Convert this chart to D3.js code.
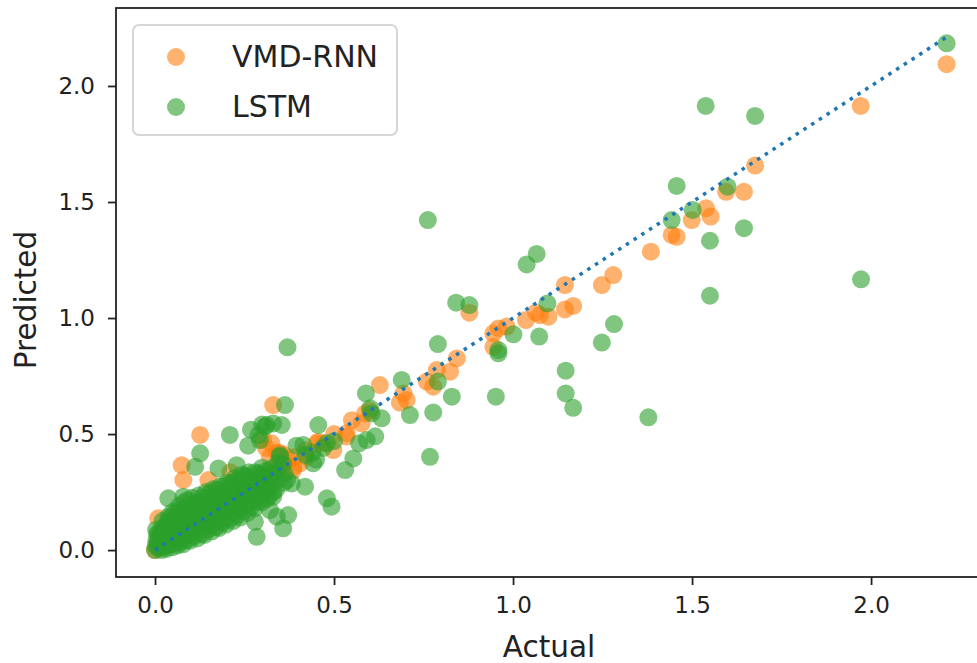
<!DOCTYPE html>
<html>
<head>
<meta charset="utf-8">
<script src="https://cdn.jsdelivr.net/npm/d3@7"></script>
<style>
  body { margin: 0; background: #fff; }
  text { font-family: "DejaVu Sans", sans-serif; fill: #222; }
</style>
</head>
<body>
<script>
// Data (actual, predicted)
const vmdRnnPoints = [
  [2.211, 2.094], [1.971, 1.914], [1.676, 1.657], [1.595, 1.544], [1.645, 1.544],
  [1.539, 1.473], [1.552, 1.437], [1.499, 1.422], [1.443, 1.358], [1.457, 1.35],
  [1.385, 1.286], [1.28, 1.185], [1.248, 1.142], [1.145, 1.142], [1.168, 1.052],
  [1.145, 1.037], [1.099, 1.006], [1.064, 1.023], [1.036, 0.991], [1.075, 1.012],
  [0.878, 1.023], [0.959, 0.955], [0.945, 0.934], [0.982, 0.963], [0.945, 0.876],
  [0.843, 0.826], [0.824, 0.769], [0.787, 0.776], [0.759, 0.726], [0.777, 0.704],
  [0.628, 0.711], [0.694, 0.675], [0.684, 0.635], [0.703, 0.647], [0.587, 0.589],
  [0.577, 0.546], [0.535, 0.503], [0.535, 0.489], [0.498, 0.431], [0.452, 0.46],
  [0.456, 0.467], [0.424, 0.402], [0.405, 0.374], [0.386, 0.345], [0.33, 0.625],
  [0.302, 0.474], [0.126, 0.496], [0.0745, 0.366], [0.079, 0.302], [0.149, 0.302],
  [0.009, 0.137], [0.21, 0.335], [0.349, 0.418], [0.321, 0.401], [0.386, 0.358],
  [0.0, 0.0], [0.005, 0.012], [0.01, 0.02], [0.012, 0.035], [0.018, 0.01],
  [0.02, 0.045], [0.025, 0.03], [0.03, 0.06], [0.035, 0.02], [0.04, 0.05],
  [0.045, 0.075], [0.05, 0.04], [0.055, 0.06], [0.06, 0.09], [0.065, 0.05],
  [0.07, 0.075], [0.078, 0.1], [0.085, 0.07], [0.09, 0.11], [0.1, 0.09],
  [0.105, 0.125], [0.115, 0.1], [0.12, 0.14], [0.13, 0.12], [0.14, 0.15],
  [0.15, 0.13], [0.16, 0.17], [0.17, 0.15], [0.18, 0.19], [0.19, 0.175],
  [0.2, 0.21], [0.21, 0.2], [0.22, 0.23], [0.235, 0.22], [0.25, 0.26],
  [0.26, 0.245], [0.275, 0.29], [0.29, 0.28], [0.3, 0.31], [0.31, 0.3],
  [0.32, 0.335], [0.33, 0.32], [0.345, 0.36], [0.355, 0.35], [0.37, 0.39],
  [0.31, 0.44], [0.325, 0.46], [0.34, 0.42], [0.36, 0.41], [0.39, 0.4],
  [0.42, 0.43], [0.47, 0.46], [0.5, 0.5], [0.55, 0.56], [0.6, 0.6],
  [0.02, 0.08], [0.03, 0.11], [0.01, 0.06]
];

const lstmPoints = [
  [2.211, 2.184], [1.972, 1.167], [1.538, 1.914], [1.676, 1.871], [1.457, 1.569],
  [1.599, 1.566], [1.502, 1.466], [1.443, 1.422], [1.645, 1.387], [1.55, 1.333],
  [1.55, 1.096], [0.762, 1.422], [1.066, 1.276], [1.038, 1.231], [0.841, 1.066],
  [0.878, 1.056], [1.096, 1.063], [1.282, 0.974], [1.248, 0.894], [1.001, 0.93],
  [1.073, 0.92], [0.79, 0.888], [0.959, 0.862], [0.959, 0.848], [1.147, 0.773],
  [0.689, 0.733], [0.79, 0.726], [1.147, 0.675], [1.168, 0.613], [0.829, 0.661],
  [0.952, 0.661], [1.378, 0.572], [0.589, 0.675], [0.712, 0.582], [0.777, 0.593],
  [0.768, 0.402], [0.605, 0.589], [0.633, 0.568], [0.601, 0.611], [0.456, 0.539],
  [0.554, 0.395], [0.531, 0.345], [0.591, 0.474], [0.37, 0.874], [0.363, 0.625],
  [0.48, 0.46], [0.414, 0.453], [0.33, 0.546], [0.354, 0.539], [0.312, 0.539],
  [0.293, 0.474], [0.349, 0.409], [0.419, 0.273], [0.48, 0.223], [0.493, 0.187],
  [0.372, 0.151], [0.321, 0.172], [0.33, 0.23], [0.382, 0.287], [0.442, 0.374],
  [0.209, 0.496], [0.126, 0.417], [0.112, 0.359], [0.177, 0.352], [0.228, 0.366],
  [0.289, 0.496], [0.307, 0.532], [0.037, 0.223], [0.079, 0.23], [0.349, 0.402],
  [0.33, 0.331], [0.369, 0.302], [0.284, 0.057], [0.279, 0.122], [0.34, 0.144],
  [0.358, 0.094], [0.268, 0.519], [0.299, 0.541], [0.26, 0.45], [0.395, 0.45],
  [0.42, 0.41], [0.615, 0.49], [0.57, 0.46], [0.44, 0.42], [0.47, 0.44],
  [0.5, 0.47], [0.45, 0.39],
  [0.0, 0.0], [0.002, 0.02], [0.004, 0.045], [0.006, 0.07], [0.003, 0.088],
  [0.01, 0.01], [0.008, 0.032], [0.012, 0.058], [0.012, 0.075],
  [0.018, 0.0], [0.02, 0.025], [0.022, 0.05], [0.019, 0.078], [0.024, 0.1], [0.021, 0.125],
  [0.028, 0.015], [0.029, 0.045], [0.027, 0.075], [0.03, 0.1],
  [0.032, 0.005], [0.035, 0.03], [0.037, 0.06], [0.034, 0.09], [0.036, 0.118], [0.038, 0.145],
  [0.043, 0.025], [0.044, 0.055], [0.042, 0.085], [0.045, 0.115], [0.043, 0.14],
  [0.048, 0.012], [0.05, 0.04], [0.052, 0.07], [0.049, 0.1], [0.053, 0.13], [0.05, 0.165],
  [0.058, 0.03], [0.057, 0.06], [0.059, 0.095], [0.056, 0.125], [0.058, 0.16],
  [0.063, 0.02], [0.066, 0.05], [0.064, 0.085], [0.068, 0.115], [0.065, 0.15], [0.067, 0.19],
  [0.072, 0.035], [0.073, 0.07], [0.071, 0.105], [0.074, 0.14], [0.072, 0.175],
  [0.078, 0.025], [0.082, 0.06], [0.08, 0.095], [0.083, 0.13], [0.079, 0.165], [0.081, 0.205],
  [0.09, 0.045], [0.089, 0.08], [0.091, 0.115], [0.088, 0.15], [0.092, 0.185], [0.09, 0.215],
  [0.097, 0.04], [0.1, 0.075], [0.102, 0.11], [0.099, 0.15], [0.101, 0.19], [0.104, 0.225],
  [0.11, 0.06], [0.109, 0.095], [0.111, 0.13], [0.108, 0.17], [0.112, 0.205],
  [0.118, 0.05], [0.121, 0.085], [0.12, 0.125], [0.123, 0.165], [0.119, 0.2], [0.122, 0.235],
  [0.13, 0.07], [0.129, 0.11], [0.131, 0.15], [0.128, 0.19], [0.132, 0.225],
  [0.138, 0.065], [0.141, 0.1], [0.14, 0.14], [0.143, 0.18], [0.139, 0.215], [0.142, 0.25],
  [0.15, 0.09], [0.149, 0.13], [0.151, 0.17], [0.148, 0.21], [0.152, 0.245],
  [0.158, 0.08], [0.161, 0.115], [0.16, 0.155], [0.163, 0.195], [0.159, 0.23], [0.162, 0.262],
  [0.17, 0.1], [0.169, 0.145], [0.171, 0.185], [0.168, 0.225], [0.172, 0.26],
  [0.178, 0.095], [0.181, 0.13], [0.18, 0.17], [0.183, 0.21], [0.179, 0.245], [0.182, 0.275],
  [0.19, 0.12], [0.189, 0.16], [0.191, 0.2], [0.188, 0.24], [0.192, 0.275],
  [0.198, 0.11], [0.201, 0.15], [0.2, 0.19], [0.203, 0.225], [0.199, 0.26], [0.202, 0.29],
  [0.21, 0.135], [0.209, 0.175], [0.211, 0.215], [0.208, 0.255], [0.212, 0.29],
  [0.218, 0.125], [0.221, 0.165], [0.22, 0.205], [0.223, 0.24], [0.219, 0.275], [0.222, 0.31],
  [0.23, 0.15], [0.229, 0.19], [0.231, 0.23], [0.228, 0.27], [0.232, 0.305],
  [0.238, 0.14], [0.241, 0.18], [0.24, 0.22], [0.243, 0.26], [0.239, 0.295], [0.242, 0.325],
  [0.25, 0.17], [0.249, 0.21], [0.251, 0.25], [0.248, 0.29], [0.252, 0.32],
  [0.258, 0.16], [0.261, 0.2], [0.26, 0.24], [0.263, 0.28], [0.259, 0.315], [0.262, 0.335],
  [0.27, 0.19], [0.269, 0.23], [0.271, 0.27], [0.268, 0.31],
  [0.278, 0.18], [0.281, 0.22], [0.28, 0.26], [0.283, 0.3], [0.279, 0.335],
  [0.29, 0.21], [0.289, 0.25], [0.291, 0.29], [0.288, 0.33],
  [0.298, 0.205], [0.301, 0.245], [0.3, 0.285], [0.303, 0.325], [0.299, 0.355],
  [0.31, 0.22], [0.309, 0.26], [0.311, 0.3], [0.308, 0.34],
  [0.318, 0.23], [0.321, 0.27], [0.32, 0.31], [0.323, 0.35],
  [0.33, 0.25], [0.329, 0.29], [0.331, 0.33],
  [0.338, 0.26], [0.341, 0.3], [0.34, 0.34], [0.343, 0.375],
  [0.36, 0.29], [0.362, 0.33], [0.358, 0.37]
];

// y = x reference line, from min to max actual value
const refLine = [0.0, 2.21];

const xTicks = [0.0, 0.5, 1.0, 1.5, 2.0];
const yTicks = [0.0, 0.5, 1.0, 1.5, 2.0];

const seriesNames = ["VMD-RNN", "LSTM"];
const seriesColors = ["#ff7f0e", "#2ca02c"];

//   Parameters
const w = 977;
const h = 663;
const plotLeft = 116, plotTop = 8, plotRight = 986, plotBottom = 577;
const r = 9;

const svg = d3.select("body").append("svg").attr("width", w).attr("height", h);

const xScale = d3.scaleLinear().domain([-0.109, 2.321]).range([plotLeft, plotRight]);
const yScale = d3.scaleLinear().domain([-0.116, 2.336]).range([plotBottom, plotTop]);

svg.append("defs").append("clipPath").attr("id", "plot-clip")
  .append("rect")
  .attr("x", plotLeft).attr("y", plotTop)
  .attr("width", plotRight - plotLeft).attr("height", plotBottom - plotTop);

const plot = svg.append("g").attr("clip-path", "url(#plot-clip)");

//   Scatter points
[vmdRnnPoints, lstmPoints].forEach((pts, i) => {
  plot.append("g")
    .selectAll("circle")
    .data(pts)
    .enter()
    .append("circle")
    .attr("cx", (d) => xScale(d[0]))
    .attr("cy", (d) => yScale(d[1]))
    .attr("r", r)
    .attr("fill", seriesColors[i])
    .attr("fill-opacity", 0.6);
});

//   Dotted line
plot.append("path")
  .datum(refLine)
  .attr("d", d3.line().x((d) => xScale(d)).y((d) => yScale(d)))
  .attr("fill", "none")
  .attr("stroke", "#1f77b4")
  .attr("stroke-width", 3.5)
  .attr("stroke-dasharray", "3.5 5.7");

//   AXIS
const fmt = d3.format(".1f");

const xAxis = svg.append("g")
  .attr("transform", "translate(0," + plotBottom + ")")
  .call(d3.axisBottom(xScale).tickValues(xTicks).tickFormat(fmt)
    .tickSize(8).tickSizeOuter(0).tickPadding(12));

const yAxis = svg.append("g")
  .attr("transform", "translate(" + plotLeft + ",0)")
  .call(d3.axisLeft(yScale).tickValues(yTicks).tickFormat(fmt)
    .tickSize(8).tickSizeOuter(0).tickPadding(13));

[xAxis, yAxis].forEach((g) => {
  g.select(".domain").remove();
  g.selectAll(".tick line").attr("stroke", "#222").attr("stroke-width", 1.8);
  g.selectAll(".tick text")
    .style("font-family", "'DejaVu Sans', sans-serif")
    .style("font-size", "23px")
    .attr("fill", "#222");
});

//   Frame
svg.append("rect")
  .attr("x", plotLeft).attr("y", plotTop)
  .attr("width", plotRight - plotLeft).attr("height", plotBottom - plotTop)
  .attr("fill", "none")
  .attr("stroke", "#222")
  .attr("stroke-width", 1.8);

//   Axis labels
svg.append("text")
  .attr("x", 549).attr("y", 657)
  .attr("text-anchor", "middle")
  .style("font-size", "29.5px")
  .text("Actual");

svg.append("text")
  .attr("transform", "translate(36,300) rotate(-90)")
  .attr("text-anchor", "middle")
  .style("font-size", "29.5px")
  .text("Predicted");

//   Legend
const legend = svg.append("g");
legend.append("rect")
  .attr("x", 133).attr("y", 25)
  .attr("width", 264).attr("height", 110)
  .attr("rx", 6)
  .attr("fill", "#fff").attr("fill-opacity", 0.8)
  .attr("stroke", "#d6d6d6").attr("stroke-width", 2);

seriesNames.forEach((name, i) => {
  legend.append("circle")
    .attr("cx", 176).attr("cy", 57 + i * 50)
    .attr("r", r)
    .attr("fill", seriesColors[i])
    .attr("fill-opacity", 0.6);
  legend.append("text")
    .attr("x", 232).attr("y", 67 + i * 50)
    .style("font-size", "30px")
    .text(name);
});
</script>
</body>
</html>
